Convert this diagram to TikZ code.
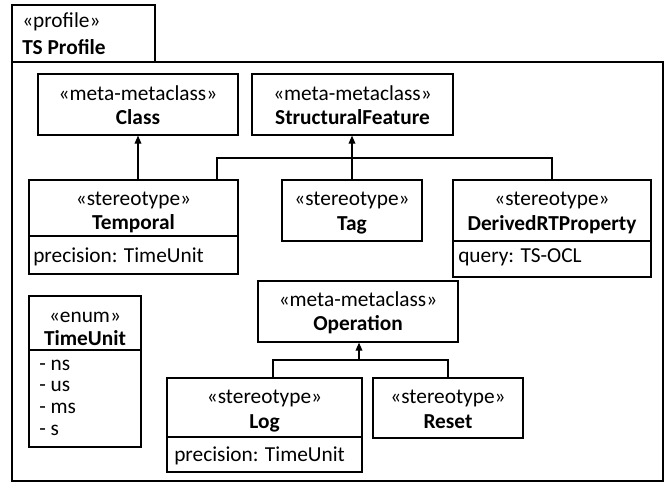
\documentclass[tikz,border=0pt]{standalone}
\usepackage{fontspec}
\setmainfont{Carlito}
\usetikzlibrary{arrows.meta,fit}
\begin{document}
\begin{tikzpicture}[x=0.75pt,y=-0.75pt,
  box/.style={draw, line width=0.9pt, inner sep=0pt},
  txt/.style={anchor=base, inner sep=0pt, font=\fontsize{16}{19}\selectfont},
  btxt/.style={txt, font=\fontsize{16}{19}\selectfont\bfseries},
  ltxt/.style={txt, anchor=base west},
  lbtxt/.style={btxt, anchor=base west},
  stxt/.style={ltxt},
  conn/.style={line width=0.9pt},
  gen/.style={conn, -{Triangle[length=6pt,width=5pt]}}]
\useasboundingbox (0,0) rectangle (665,483);
% package frame
\node[box, fit={(12,5) (155,62)}] (tab) {};
\node[box, fit={(12,62) (663,481)}] (frame) {};
\node[ltxt] (tab1) at (22,27) {«profile»};
\node[lbtxt] (tab2) at (22,54) {TS Profile};
% boxes
\node[box, fit={(38,74) (238,135)}] (class) {};
\node[box, fit={(252,74) (453,135)}] (sf) {};
\node[box, fit={(29,180) (238,236)}] (temporal) {};
\node[box, fit={(29,236) (238,274)}] (temporalattr) {};
\node[box, fit={(282,180) (422,241)}] (tag) {};
\node[box, fit={(453,180) (651,241)}] (drp) {};
\node[box, fit={(453,241) (651,277)}] (drpattr) {};
\node[box, fit={(29,296) (141,350)}] (enum) {};
\node[box, fit={(29,350) (141,447)}] (enumlist) {};
\node[box, fit={(258,281) (458,342)}] (op) {};
\node[box, fit={(167,378) (362,437)}] (log) {};
\node[box, fit={(167,437) (362,472)}] (logattr) {};
\node[box, fit={(373,378) (523,438)}] (reset) {};
% texts
\node[txt] (class1) at (138,100) {«meta-metaclass»};
\node[btxt] (class2) at (138,124) {Class};
\node[txt] (sf1) at (352.5,100) {«meta-metaclass»};
\node[btxt] (sf2) at (352.5,124) {StructuralFeature};
\node[txt] (temp1) at (133.5,205) {«stereotype»};
\node[btxt] (temp2) at (133.5,229) {Temporal};
\node[ltxt] (temp3) at (33,262) {precision: TimeUnit};
\node[txt] (tag1) at (352,205) {«stereotype»};
\node[btxt] (tag2) at (352,230) {Tag};
\node[txt] (drp1) at (552,205) {«stereotype»};
\node[btxt] (drp2) at (552,230) {DerivedRTProperty};
\node[ltxt] (drp3) at (458,262) {query: TS-OCL};
\node[txt] (enum1) at (85,322) {«enum»};
\node[btxt] (enum2) at (85,345) {TimeUnit};
\node[stxt] (e1) at (39,370) {- ns};
\node[stxt] (e2) at (39,391.7) {- us};
\node[stxt] (e3) at (39,413) {- ms};
\node[stxt] (e4) at (39,435) {- s};
\node[txt] (op1) at (358,306) {«meta-metaclass»};
\node[btxt] (op2) at (358,330) {Operation};
\node[txt] (log1) at (264.5,403) {«stereotype»};
\node[btxt] (log2) at (264.5,428) {Log};
\node[ltxt] (log3) at (174,461) {precision: TimeUnit};
\node[txt] (reset1) at (448,403) {«stereotype»};
\node[btxt] (reset2) at (448,428) {Reset};
% connectors
\draw[gen] (temporal.north -| class.south) -- (class.south);
\draw[gen] (tag.north) -- (tag.north |- sf.south);
\coordinate (jl) at (217,158);
\draw[conn] (temporal.north -| jl) |- (drp.north |- jl) -- (drp.north);
\coordinate (jo) at (359,360);
\draw[gen] (jo) -- (jo |- op.south);
\coordinate (ol) at (273,360);
\draw[conn] (ol |- log.north) -- (ol) -| (reset.north);
\end{tikzpicture}
\end{document}
